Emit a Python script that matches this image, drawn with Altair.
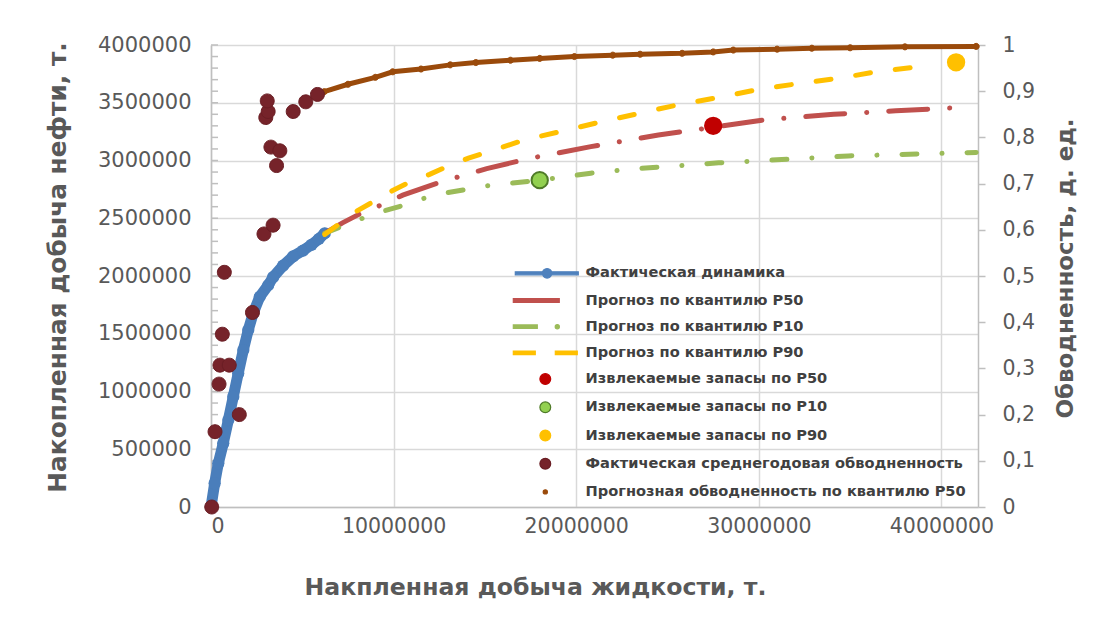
import altair as alt
import pandas as pd

# ---------------- data ----------------
M = 1_000_000

# Фактическая динамика: cumulative liquid (x) vs cumulative oil (y), millions of t
fact_liq = [0, 0.2, 0.4, 0.67, 0.95, 1.22, 1.49, 1.77, 2.04, 2.31, 2.67, 3.13, 3.4, 3.95, 4.5, 5.04, 5.5, 5.9, 6.23]
fact_oil = [0, 0.205, 0.378, 0.551, 0.753, 0.955, 1.157, 1.359, 1.532, 1.677, 1.82, 1.92, 1.99, 2.09, 2.17, 2.22, 2.27, 2.32, 2.37]

# forecasts (millions of t)
p50_liq = [6.23, 7.2, 8.3, 9.4, 10.5, 12.5, 15.1, 17.5, 20.8, 24.5, 27.6, 30.2, 34.1, 37.5, 41.1]
p50_oil = [2.37, 2.46, 2.55, 2.62, 2.70, 2.81, 2.93, 3.02, 3.12, 3.22, 3.29, 3.35, 3.40, 3.43, 3.46]

p10_liq = [6.23, 7.0, 8.3, 9.4, 10.5, 11.6, 12.9, 15.1, 18.0, 20.8, 23.3, 25.6, 27.8, 30.3, 32.6, 34.9, 37.3, 39.6, 41.9]
p10_oil = [2.37, 2.42, 2.50, 2.56, 2.61, 2.67, 2.72, 2.78, 2.83, 2.89, 2.93, 2.955, 2.98, 3.00, 3.02, 3.04, 3.05, 3.06, 3.07]

p90_liq = [6.23, 7.1, 7.96, 8.96, 9.95, 10.97, 11.97, 12.95, 14.1, 17.2, 19.4, 21.5, 23.5, 25.5, 27.6, 29.8, 31.9, 34.3, 36.5, 38.7, 39.5]
p90_oil = [2.36, 2.46, 2.56, 2.65, 2.74, 2.82, 2.88, 2.95, 3.02, 3.18, 3.26, 3.34, 3.41, 3.48, 3.54, 3.61, 3.66, 3.71, 3.77, 3.81, 3.83]

# recoverable reserves markers
res_names = ["Извлекаемые запасы по P50", "Извлекаемые запасы по P10", "Извлекаемые запасы по P90"]
res_liq = [27.5, 18.0, 40.8]
res_oil = [3.30, 2.83, 3.85]

# actual average annual water cut (fraction)
wc_liq = [0.04, 0.22, 0.44, 0.49, 1.0, 0.62, 0.73, 1.55, 2.27, 2.9, 3.4, 3.59, 3.28, 3.77, 3.0, 3.13, 3.08, 4.5, 5.19, 5.83]
wc_val = [0.0, 0.163, 0.266, 0.307, 0.307, 0.374, 0.508, 0.2, 0.421, 0.591, 0.61, 0.739, 0.779, 0.771, 0.843, 0.856, 0.879, 0.856, 0.877, 0.893]

# forecast water cut P50
wcf_liq = [6.2, 7.5, 9.0, 9.95, 11.5, 13.1, 14.5, 16.4, 18.0, 19.9, 22.0, 23.5, 25.8, 27.5, 28.6, 31.0, 32.9, 35.0, 38.0, 41.9]
wcf_val = [0.899, 0.915, 0.93, 0.942, 0.948, 0.957, 0.962, 0.967, 0.971, 0.975, 0.978, 0.98, 0.982, 0.985, 0.989, 0.991, 0.993, 0.994, 0.996, 0.997]

series = [
    "Фактическая динамика",
    "Прогноз по квантилю P50",
    "Прогноз по квантилю P10",
    "Прогноз по квантилю P90",
    "Извлекаемые запасы по P50",
    "Извлекаемые запасы по P10",
    "Извлекаемые запасы по P90",
    "Фактическая среднегодовая обводненность",
    "Прогнозная обводненность по квантилю P50",
]
series_fill = ["#4F81BD", "#C0504D", "#9BBB59", "#FFC000", "#C00000", "#92D050", "#FFC000", "#76232A", "#9A4A0B"]
series_stroke = ["#4F81BD", "#C0504D", "#9BBB59", "#FFC000", "#C00000", "#4F7A28", "#FFC000", "#6A1E24", "#9A4A0B"]

x_ticks = [0, 10 * M, 20 * M, 30 * M, 40 * M]
y_ticks = [i * 500000 for i in range(9)]
y_minor = [i * 100000 for i in range(41)]
wc_ticks = [i / 10 for i in range(11)]

# ---------------- tables ----------------
fact_df = pd.DataFrame({"liq": [v * M for v in fact_liq], "oil": [v * M for v in fact_oil]})
fc_rows = []
for name, xs, ys in [(series[1], p50_liq, p50_oil), (series[2], p10_liq, p10_oil), (series[3], p90_liq, p90_oil)]:
    for i, (a, b) in enumerate(zip(xs, ys)):
        fc_rows.append({"line_series": name, "liq": a * M, "oil": b * M, "i": i})
fc_df = pd.DataFrame(fc_rows)
res_df = pd.DataFrame({"series": res_names, "liq": [v * M for v in res_liq], "oil": [v * M for v in res_oil]})
wc_df = pd.DataFrame({"series": series[7], "liq": [v * M for v in wc_liq], "wc": wc_val})
wcf_df = pd.DataFrame({"series": series[8], "liq": [v * M for v in wcf_liq], "wc": wcf_val})
minor_df = pd.DataFrame({"oil": y_minor})

# ---------------- legend symbols (custom paths, 1 unit = 6 px in legend) ----------------
def circ(cx, r):
    return f"M{cx + r},0A{r},{r} 0 1,1 {cx - r},0A{r},{r} 0 1,1 {cx + r},0Z"

def rect(x0, x1, h=0.3):
    return f"M{x0},{-h}H{x1}V{h}H{x0}Z"

shapes = [
    rect(-5, 5.5, 0.25) + " " + circ(0.3, 0.8),
    rect(-5.33, 2.33),
    rect(-5.33, -1.33) + " " + circ(2.0, 0.35),
    rect(-5.33, -1.67) + " " + rect(1.67, 5.33),
    circ(0, 0.9),
    circ(0, 0.9),
    circ(0, 0.9),
    circ(0, 0.9),
    circ(0, 0.35),
]

FONT = "DejaVu Sans"
GREY = "#595959"

legend = alt.Legend(
    title=None, orient="none", legendX=327, legendY=221, direction="vertical",
    labelFont=FONT, labelFontWeight="bold", labelFontSize=14.6, labelColor="#404040",
    symbolSize=144, symbolStrokeWidth=1.2, labelOffset=33, rowPadding=11.2,
    symbolOpacity=1, labelLimit=500,
)

fill_enc = alt.Fill("series:N", scale=alt.Scale(domain=series, range=series_fill), legend=legend)
stroke_enc = alt.Stroke("series:N", scale=alt.Scale(domain=series, range=series_stroke), legend=legend)
shape_enc = alt.Shape("series:N", scale=alt.Scale(domain=series, range=shapes), legend=legend)

x_enc = alt.X(
    "liq:Q",
    scale=alt.Scale(domain=[0, 42 * M], nice=False, zero=True),
    axis=alt.Axis(
        values=x_ticks, format="d", title="Накпленная добыча жидкости, т.",
        grid=True, gridColor="#D9D9D9", gridWidth=1.5, ticks=False,
        domainColor="#BFBFBF", domainWidth=1.5, labelPadding=9,
        labelFont=FONT, labelFontSize=20.5, labelColor=GREY,
        titleFont=FONT, titleFontSize=23.6, titleFontWeight="bold", titleColor=GREY,
        titleX=324, titleY=87, titleBaseline="alphabetic", titleAlign="center",
    ),
)

y_oil = alt.Y(
    "oil:Q",
    scale=alt.Scale(domain=[0, 4 * M], nice=False),
    axis=alt.Axis(
        values=y_ticks, format="d", title="Накопленная добыча нефти, т.",
        grid=True, gridColor="#D9D9D9", gridWidth=1.5, ticks=False,
        domainColor="#BFBFBF", domainWidth=1.5, labelPadding=20,
        labelFont=FONT, labelFontSize=21, labelColor=GREY,
        titleFont=FONT, titleFontSize=24.8, titleFontWeight="bold", titleColor=GREY,
        titleX=-146, titleY=222, titleBaseline="alphabetic", titleAngle=270, titleAlign="center",
    ),
)

y_wc = alt.Y(
    "wc:Q",
    scale=alt.Scale(domain=[0, 1], nice=False),
    axis=alt.Axis(
        orient="right", values=wc_ticks, title="Обводненность, д. ед.",
        labelExpr="replace(format(datum.value, '.1~f'), '.', ',')",
        grid=False, ticks=True, tickSize=7, tickColor="#BFBFBF", tickWidth=1.5,
        domainColor="#BFBFBF", domainWidth=1.5, labelPadding=17,
        labelFont=FONT, labelFontSize=20.5, labelColor=GREY,
        titleFont=FONT, titleFontSize=23, titleFontWeight="bold", titleColor=GREY,
        titleX=94, titleY=223, titleBaseline="alphabetic", titleAngle=270, titleAlign="center",
    ),
)

# ---------------- left (oil) layers ----------------
minor_ticks = alt.Chart(minor_df).mark_rule(color="#BFBFBF", strokeWidth=1.5).encode(
    y=alt.Y("oil:Q", scale=alt.Scale(domain=[0, 4 * M], nice=False)),
    x=alt.value(0), x2=alt.value(7),
)

blue_line = alt.Chart(fact_df).mark_line(color="#4A7EBB", strokeWidth=11, strokeCap="round", strokeJoin="round").encode(
    x=x_enc, y=y_oil, order="liq:Q"
)
blue_pts = alt.Chart(fact_df).mark_circle(color="#4A7EBB", size=150, opacity=1).encode(x=x_enc, y=y_oil)

fc_lines = alt.Chart(fc_df).mark_line(strokeWidth=5, strokeCap="round").encode(
    x=x_enc, y=y_oil, order="i:Q",
    color=alt.Color("line_series:N", scale=alt.Scale(domain=series[1:4], range=series_fill[1:4]), legend=None),
    strokeDash=alt.StrokeDash(
        "line_series:N",
        scale=alt.Scale(domain=series[1:4], range=[[39, 22, 0.1, 22], [15, 25, 0.1, 25], [15, 25]]),
        legend=None,
    ),
)

res_pts = alt.Chart(res_df).mark_point(filled=True, size=330, opacity=1, strokeWidth=2).encode(
    x=x_enc, y=y_oil, fill=fill_enc, stroke=stroke_enc, shape=shape_enc
)

left = alt.layer(minor_ticks, blue_line, blue_pts, fc_lines, res_pts)

# ---------------- right (water cut) layers ----------------
wcf_line = alt.Chart(wcf_df).mark_line(color="#9A4A0B", strokeWidth=5, strokeCap="round").encode(
    x=x_enc, y=y_wc, order="liq:Q"
)
wcf_pts = alt.Chart(wcf_df).mark_point(filled=True, size=300, opacity=1, strokeWidth=1).encode(
    x=x_enc, y=y_wc, fill=fill_enc, stroke=stroke_enc, shape=shape_enc
)
wc_pts = alt.Chart(wc_df).mark_point(filled=True, size=240, opacity=1, strokeWidth=1).encode(
    x=x_enc, y=y_wc, fill=fill_enc, stroke=stroke_enc, shape=shape_enc
)
right = alt.layer(wcf_line, wcf_pts, wc_pts)

chart = (
    alt.layer(left, right)
    .resolve_scale(y="independent")
    .properties(
        width=767, height=462,
        autosize=alt.AutoSizeParams(type="none"),
        padding={"left": 203, "top": 37, "right": 100, "bottom": 100},
        background="white",
    )
    .configure_view(stroke=None)
)

chart.save("out.html", embed_options={"renderer": "svg", "actions": False})
